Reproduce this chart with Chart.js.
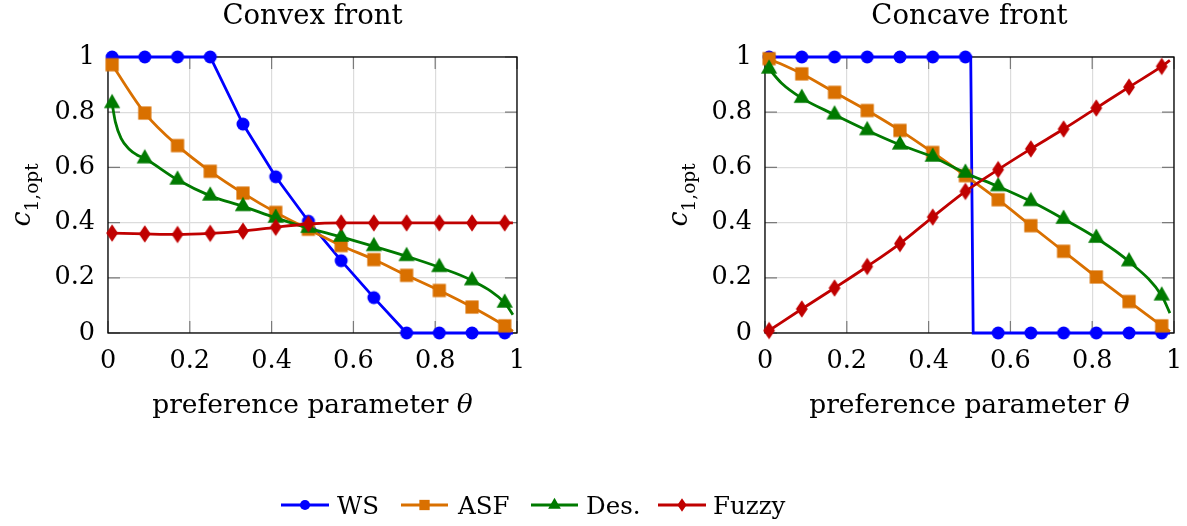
<!DOCTYPE html>
<html>
<head>
<meta charset="utf-8">
<script src="https://cdn.jsdelivr.net/npm/chart.js@4.4.1/dist/chart.umd.min.js"></script>
<style>
  html, body { margin: 0; padding: 0; background: #fff; }
  #wrap { position: relative; width: 1187px; height: 526px; overflow: hidden; }
  canvas { position: absolute; top: 0; }
</style>
</head>
<body>
<div id="wrap">
  <canvas id="convexChart" width="594" height="440" style="left:0;width:594px;height:440px"></canvas>
  <canvas id="concaveChart" width="593" height="440" style="left:594px;width:593px;height:440px"></canvas>
  <canvas id="legendCanvas" width="1187" height="86" style="left:0;top:440px;width:1187px;height:86px"></canvas>
</div>
<script>
// theta values carrying a mark (every 4th sample of the curves)
const markTheta = [0.01, 0.09, 0.17, 0.25, 0.33, 0.41, 0.49, 0.57, 0.65, 0.73, 0.81, 0.89, 0.97];

// convex front, values at the marks
const convexWS = [1, 1, 1, 1, 0.757, 0.566, 0.405, 0.262, 0.128, 0, 0, 0, 0];
const convexASF = [0.972, 0.797, 0.679, 0.586, 0.507, 0.437, 0.376, 0.317, 0.266, 0.209, 0.154, 0.094, 0.026];
const convexDes = [0.832, 0.632, 0.555, 0.497, 0.459, 0.417, 0.38, 0.348, 0.314, 0.278, 0.238, 0.19, 0.109];
const convexFuzzy = [0.362, 0.359, 0.357, 0.361, 0.369, 0.383, 0.395, 0.399, 0.399, 0.399, 0.399, 0.399, 0.399];

// extra curve samples without a mark [theta, value]
const convexWSExtra = [[0.99, 0]];
const convexASFExtra = [[0.99, 0.006]];
const convexDesExtra = [[0.018, 0.765], [0.032, 0.705], [0.052, 0.666], [0.07, 0.646], [0.99, 0.066]];
const convexFuzzyExtra = [[0.99, 0.399]];

// concave front, values at the marks
const concaveWS = [1, 1, 1, 1, 1, 1, 1, 0, 0, 0, 0, 0, 0];
const concaveASF = [0.994, 0.939, 0.872, 0.806, 0.734, 0.654, 0.570, 0.483, 0.389, 0.296, 0.203, 0.114, 0.026];
const concaveDes = [0.957, 0.851, 0.791, 0.734, 0.682, 0.638, 0.580, 0.531, 0.477, 0.413, 0.344, 0.259, 0.135];
const concaveFuzzy = [0.009, 0.087, 0.163, 0.241, 0.324, 0.420, 0.513, 0.592, 0.667, 0.739, 0.815, 0.891, 0.966];

const concaveWSExtra = [[0.503, 1], [0.509, 0], [0.99, 0]];
const concaveASFExtra = [[0.99, 0.005]];
const concaveDesExtra = [[0.04, 0.906], [0.99, 0.072]];
const concaveFuzzyExtra = [[0.99, 0.988]];

const axisTicks = [0, 0.2, 0.4, 0.6, 0.8, 1];
const seriesNames = ['WS', 'ASF', 'Des.', 'Fuzzy'];
const seriesColors = ['#0000ff', '#d97000', '#007a00', '#c00000'];
const seriesMarks = ['circle', 'square', 'triangle', 'diamond'];
const seriesSmooth = [false, true, true, true];

const FONT = '"DejaVu Serif", "Liberation Serif", serif';
const GRID = '#dcdcdc';

function drawMark(ctx, kind, x, y, s, color) {
  ctx.fillStyle = color;
  ctx.beginPath();
  if (kind === 'circle') {
    ctx.arc(x, y, 6.5 * s, 0, Math.PI * 2);
  } else if (kind === 'square') {
    const h = 6.6 * s;
    ctx.rect(x - h, y - h, 2 * h, 2 * h);
  } else if (kind === 'triangle') {
    const r = 9.4 * s;
    ctx.moveTo(x, y - r);
    ctx.lineTo(x + r * Math.sin(Math.PI * 2 / 3), y + r * 0.5);
    ctx.lineTo(x - r * Math.sin(Math.PI * 2 / 3), y + r * 0.5);
    ctx.closePath();
  } else {
    const w = 5.9 * s, hh = 8.8 * s;
    ctx.moveTo(x, y - hh);
    ctx.lineTo(x + w, y);
    ctx.lineTo(x, y + hh);
    ctx.lineTo(x - w, y);
    ctx.closePath();
  }
  ctx.fill();
}

function markCanvas(kind, color) {
  const c = document.createElement('canvas');
  c.width = 24;
  c.height = 24;
  drawMark(c.getContext('2d'), kind, 12, 12, 1, color);
  return c;
}

function buildPoints(values, extra) {
  const pts = markTheta.map((t, i) => ({ x: t, y: values[i], m: true }));
  extra.forEach(([t, v]) => pts.push({ x: t, y: v, m: false }));
  return pts.sort((a, b) => a.x - b.x);
}

function buildDatasets(valueSets, extraSets) {
  return valueSets.map((vals, i) => ({
    label: seriesNames[i],
    data: buildPoints(vals, extraSets[i]),
    borderColor: seriesColors[i],
    backgroundColor: seriesColors[i],
    borderWidth: 2.8,
    pointStyle: markCanvas(seriesMarks[i], seriesColors[i]),
    pointRadius: (ctx) => (ctx.raw && ctx.raw.m ? 6 : 0),
    pointBorderWidth: 0,
    cubicInterpolationMode: seriesSmooth[i] ? 'monotone' : 'default',
    tension: 0,
    fill: false,
    clip: false,
    order: 4 - i,
  }));
}

function framePlugin(title) {
  return {
    id: 'frameText',
    beforeDatasetsDraw(chart) {
      const { ctx, chartArea: a, scales } = chart;
      ctx.save();
      ctx.strokeStyle = '#7a7a7a';
      ctx.lineWidth = 1.2;
      ctx.beginPath();
      axisTicks.forEach((t) => {
        const px = scales.x.getPixelForValue(t);
        const py = scales.y.getPixelForValue(t);
        ctx.moveTo(px, a.bottom); ctx.lineTo(px, a.bottom - 12);
        ctx.moveTo(px, a.top); ctx.lineTo(px, a.top + 12);
        ctx.moveTo(a.left, py); ctx.lineTo(a.left + 12, py);
        ctx.moveTo(a.right, py); ctx.lineTo(a.right - 12, py);
      });
      ctx.stroke();
      ctx.strokeStyle = '#000';
      ctx.lineWidth = 1.3;
      ctx.strokeRect(a.left, a.top, a.right - a.left, a.bottom - a.top);
      ctx.restore();
    },
    afterDraw(chart) {
      const { ctx, chartArea: a } = chart;
      const cx = (a.left + a.right) / 2;
      ctx.save();
      ctx.fillStyle = '#000';
      ctx.textBaseline = 'alphabetic';

      // title
      ctx.font = '27.5px ' + FONT;
      ctx.textAlign = 'center';
      ctx.fillText(title, cx, 24);

      // x label
      ctx.textAlign = 'left';
      ctx.font = '26.5px ' + FONT;
      const txt = 'preference parameter ';
      const w1 = ctx.measureText(txt).width;
      ctx.font = 'italic 26.5px ' + FONT;
      const w2 = ctx.measureText('θ').width;
      const x0 = cx - (w1 + w2) / 2;
      ctx.font = '26.5px ' + FONT;
      ctx.fillText(txt, x0, 413);
      ctx.font = 'italic 26.5px ' + FONT;
      ctx.fillText('θ', x0 + w1, 413);

      // y label c_{1,opt}
      ctx.translate(a.left - 78, (a.top + a.bottom) / 2);
      ctx.rotate(-Math.PI / 2);
      ctx.font = 'italic 27px ' + FONT;
      const wc = ctx.measureText('c').width;
      ctx.font = '18.5px ' + FONT;
      const ws = ctx.measureText('1,opt').width;
      const s0 = -(wc + ws) / 2;
      ctx.font = 'italic 27px ' + FONT;
      ctx.fillText('c', s0, 0);
      ctx.font = '18.5px ' + FONT;
      ctx.fillText('1,opt', s0 + wc, 8);
      ctx.restore();
    },
  };
}

function fixWidth(w) {
  return (scale) => { scale.width = w; scale.paddingTop = 0; scale.paddingBottom = 0; };
}
function fixHeight(h) {
  return (scale) => { scale.height = h; scale.paddingLeft = 0; scale.paddingRight = 0; };
}

function makeChart(id, title, valueSets, extraSets, padLeft, padRight) {
  const tickFmt = (v) => String(Math.round(v * 10) / 10);
  return new Chart(document.getElementById(id), {
    type: 'line',
    data: { datasets: buildDatasets(valueSets, extraSets) },
    options: {
      responsive: false,
      animation: false,
      events: [],
      layout: { padding: { left: padLeft, right: padRight, top: 57, bottom: 47 } },
      plugins: { legend: { display: false }, tooltip: { enabled: false } },
      scales: {
        x: {
          type: 'linear', min: 0, max: 1,
          ticks: { stepSize: 0.2, padding: 13, color: '#000', font: { family: FONT, size: 25.5 }, callback: tickFmt, maxRotation: 0 },
          grid: { color: GRID, lineWidth: 1.2, drawTicks: false },
          border: { display: false },
          afterFit: fixHeight(60),
        },
        y: {
          type: 'linear', min: 0, max: 1,
          ticks: { stepSize: 0.2, padding: 13, color: '#000', font: { family: FONT, size: 25.5 }, callback: tickFmt },
          grid: { color: GRID, lineWidth: 1.2, drawTicks: false },
          border: { display: false },
          afterFit: fixWidth(60),
        },
      },
    },
    plugins: [framePlugin(title)],
  });
}

function drawLegend() {
  const ctx = document.getElementById('legendCanvas').getContext('2d');
  const lineX = [[281, 329], [401, 448], [531, 578], [658, 706]];
  const textX = [337, 458, 586, 713];
  const y = 65;
  seriesNames.forEach((name, i) => {
    ctx.strokeStyle = seriesColors[i];
    ctx.lineWidth = 3;
    ctx.beginPath();
    ctx.moveTo(lineX[i][0], y);
    ctx.lineTo(lineX[i][1], y);
    ctx.stroke();
    drawMark(ctx, seriesMarks[i], (lineX[i][0] + lineX[i][1]) / 2, y, 0.78, seriesColors[i]);
    ctx.fillStyle = '#000';
    ctx.font = '24.5px ' + FONT;
    ctx.textBaseline = 'alphabetic';
    ctx.fillText(name, textX[i], 74);
  });
}

makeChart('convexChart', 'Convex front',
  [convexWS, convexASF, convexDes, convexFuzzy],
  [convexWSExtra, convexASFExtra, convexDesExtra, convexFuzzyExtra], 48, 77);
makeChart('concaveChart', 'Concave front',
  [concaveWS, concaveASF, concaveDes, concaveFuzzy],
  [concaveWSExtra, concaveASFExtra, concaveDesExtra, concaveFuzzyExtra], 111, 13);
drawLegend();
</script>
</body>
</html>
